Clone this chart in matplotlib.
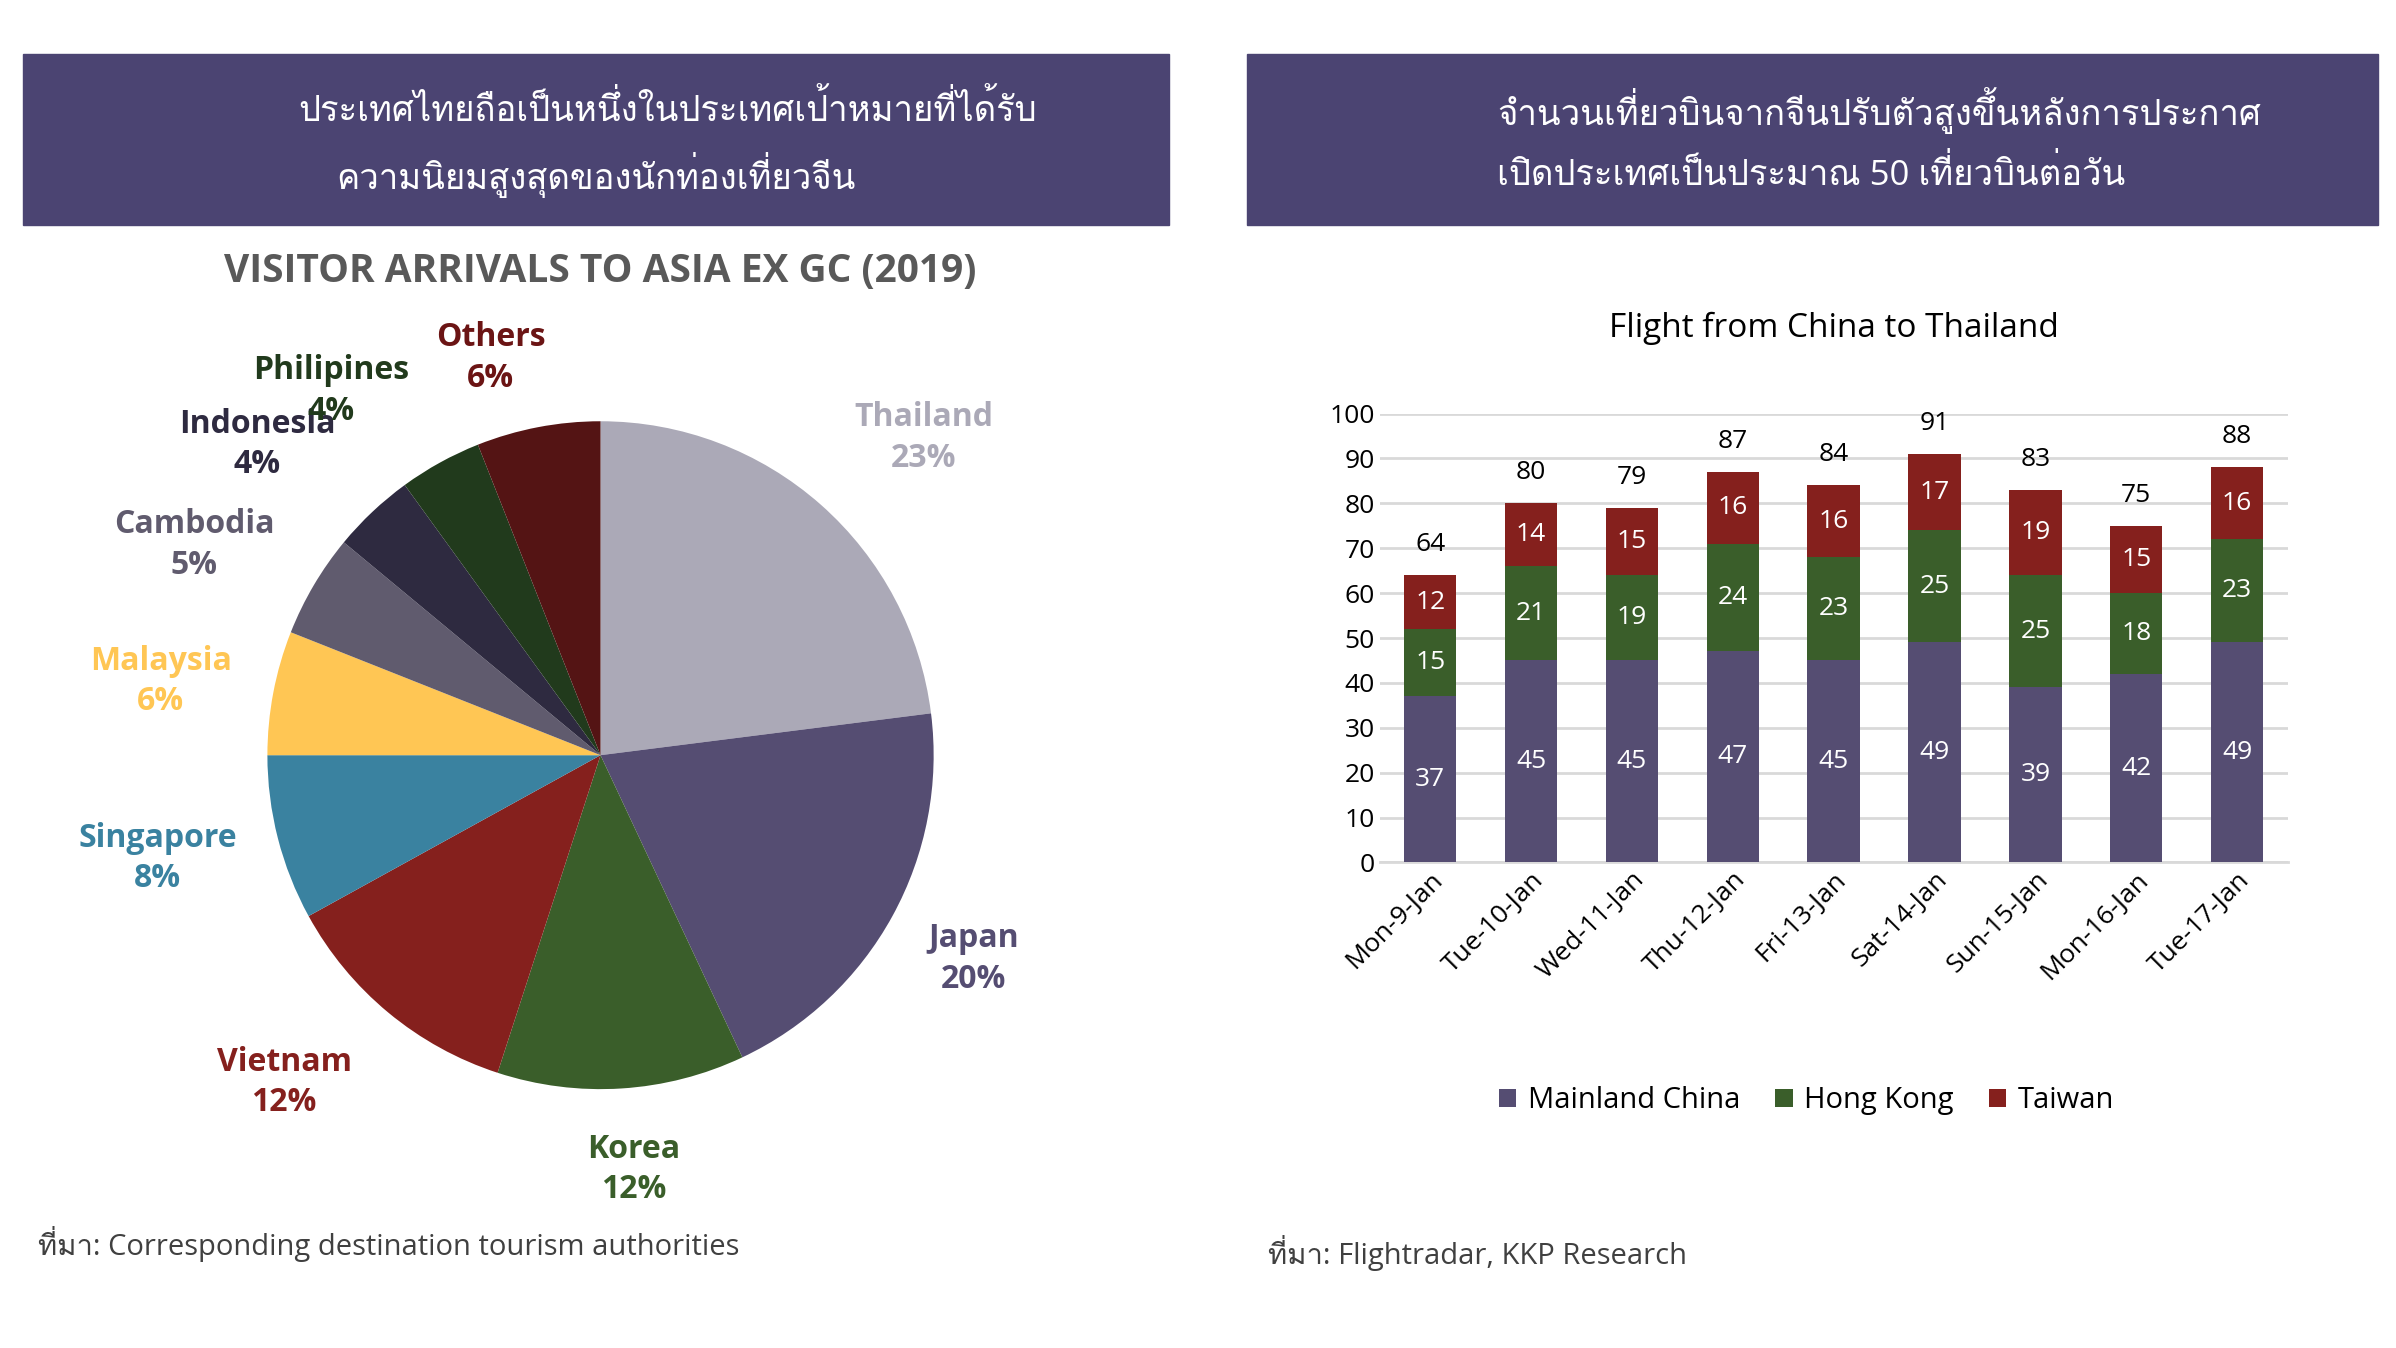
import numpy as np
import matplotlib.pyplot as plt
from matplotlib import font_manager
from matplotlib.ft2font import FT2Font
from matplotlib.patches import Rectangle

# find any installed family that has Thai glyphs
thai_family = None
for f in font_manager.fontManager.ttflist:
    try:
        if 0x0E01 in FT2Font(f.fname).get_charmap():
            thai_family = f.name
            break
    except Exception:
        pass
fams = ['Open Sans', 'DejaVu Sans']
if thai_family:
    fams = ['Open Sans', thai_family, 'DejaVu Sans']
plt.rcParams['font.family'] = fams

# pie data
countries = ["Thailand", "Japan", "Korea", "Vietnam", "Singapore", "Malaysia",
             "Cambodia", "Indonesia", "Philipines", "Others"]
shares = [23, 20, 12, 12, 8, 6, 5, 4, 4, 6]
pie_colors = ["#ABA9B7", "#554D72", "#3A5E2A", "#85201D", "#3A82A0", "#FFC654",
              "#605B6E", "#2E2A40", "#213A1C", "#541414"]
label_colors = ["#ABA9B7", "#554D72", "#3A5E2A", "#85201D", "#3A82A0", "#FFC654",
                "#605B6E", "#2E2A40", "#213A1C", "#6B1414"]
# label spots in pie radius units
label_pos = [(0.97, 0.95), (1.12, -0.61), (0.1, -1.24), (-0.95, -0.98), (-1.33, -0.31),
             (-1.32, 0.22), (-1.22, 0.63), (-1.03, 0.93), (-0.81, 1.09), (-0.33, 1.19)]

# bar data
days = ["Mon-9-Jan", "Tue-10-Jan", "Wed-11-Jan", "Thu-12-Jan", "Fri-13-Jan",
        "Sat-14-Jan", "Sun-15-Jan", "Mon-16-Jan", "Tue-17-Jan"]
mainland = [37, 45, 45, 47, 45, 49, 39, 42, 49]
hongkong = [15, 21, 19, 24, 23, 25, 25, 18, 23]
taiwan = [12, 14, 15, 16, 16, 17, 19, 15, 16]
totals = [64, 80, 79, 87, 84, 91, 83, 75, 88]

W, H = 1568, 880
fig = plt.figure(figsize=(23.96, 13.48), dpi=100)
hdr = "#4B4472"

def box(x0, y0, x1, y1):
    fig.patches.append(Rectangle((x0 / W, 1 - y1 / H), (x1 - x0) / W, (y1 - y0) / H,
                                 transform=fig.transFigure, color=hdr))

box(15, 35, 765, 147)
box(816, 35, 1556, 147)
fig.text(437 / W, 1 - 72 / H, "ประเทศไทยถือเป็นหนึ่งในประเทศเป้าหมายที่ได้รับ",
         color="white", fontsize=25, ha="center", va="center")
fig.text(390 / W, 1 - 114 / H, "ความนิยมสูงสุดของนักท่องเที่ยวจีน",
         color="white", fontsize=25, ha="center", va="center")
fig.text(1230 / W, 1 - 72 / H, "จำนวนเที่ยวบินจากจีนปรับตัวสูงขึ้นหลังการประกาศ",
         color="white", fontsize=25, ha="center", va="center")
fig.text(1185 / W, 1 - 114 / H, "เปิดประเทศเป็นประมาณ 50 เที่ยวบินต่อวัน",
         color="white", fontsize=25, ha="center", va="center")

fig.text(393 / W, 1 - 177 / H, "VISITOR ARRIVALS TO ASIA EX GC (2019)",
         color="#595959", fontsize=28, fontweight="bold", ha="center", va="center")

# pie
r = 218
axp = fig.add_axes([(393 - r) / W, 1 - (493 + r) / H, 2 * r / W, 2 * r / H])
wedges, _ = axp.pie(shares, colors=pie_colors, startangle=90, counterclock=False,
                    wedgeprops=dict(linewidth=0))
axp.set_aspect("auto")
axp.set_xlim(-1, 1)
axp.set_ylim(-1, 1)
for name, s, c, (lx, ly) in zip(countries, shares, label_colors, label_pos):
    axp.text(lx, ly, f"{name}\n{s}%", color=c, fontsize=23, fontweight="bold",
             ha="center", va="center", linespacing=1.3, clip_on=False)

fig.text(25 / W, 1 - 812 / H, "ที่มา: Corresponding destination tourism authorities",
         color="#404040", fontsize=21, va="center")
fig.text(830 / W, 1 - 818 / H, "ที่มา: Flightradar, KKP Research",
         color="#404040", fontsize=21, va="center")

# bars
axb = fig.add_axes([903 / W, 1 - 563 / H, (1497 - 903) / W, (563 - 270) / H])
x = np.arange(len(days))
c1, c2, c3 = "#554D72", "#3A5E2A", "#85201D"
b1 = np.array(mainland)
b2 = b1 + np.array(hongkong)
axb.bar(x, mainland, 0.52, color=c1, label="Mainland China", zorder=3)
axb.bar(x, hongkong, 0.52, bottom=b1, color=c2, label="Hong Kong", zorder=3)
axb.bar(x, taiwan, 0.52, bottom=b2, color=c3, label="Taiwan", zorder=3)
for i in range(len(days)):
    axb.text(x[i], mainland[i] / 2, str(mainland[i]), color="white", fontsize=19, ha="center", va="center", zorder=4)
    axb.text(x[i], b1[i] + hongkong[i] / 2, str(hongkong[i]), color="white", fontsize=19, ha="center", va="center", zorder=4)
    axb.text(x[i], b2[i] + taiwan[i] / 2, str(taiwan[i]), color="white", fontsize=19, ha="center", va="center", zorder=4)
    axb.text(x[i], totals[i] + 4, str(totals[i]), color="black", fontsize=19, ha="center", va="bottom")
axb.set_ylim(0, 100)
axb.set_xlim(-0.5, len(days) - 0.5)
axb.set_yticks(range(0, 101, 10))
axb.yaxis.grid(True, color="#D9D9D9", linewidth=2, zorder=0)
axb.set_xticks(x)
axb.set_xticklabels(days, rotation=45, ha="right", rotation_mode="anchor", fontsize=19)
axb.tick_params(axis="y", labelsize=19, length=0)
axb.tick_params(axis="x", length=0)
for s in ["top", "right", "left"]:
    axb.spines[s].set_visible(False)
axb.spines["bottom"].set_color("#D9D9D9")
axb.spines["bottom"].set_linewidth(2)
axb.set_title("Flight from China to Thailand", fontsize=24, pad=55)
axb.legend(loc="upper center", bbox_to_anchor=(0.47, -0.44), ncol=3, frameon=False,
           fontsize=21, handlelength=0.6, handleheight=0.6, columnspacing=1.2, handletextpad=0.4)

fig.savefig("out.png", dpi=100)
